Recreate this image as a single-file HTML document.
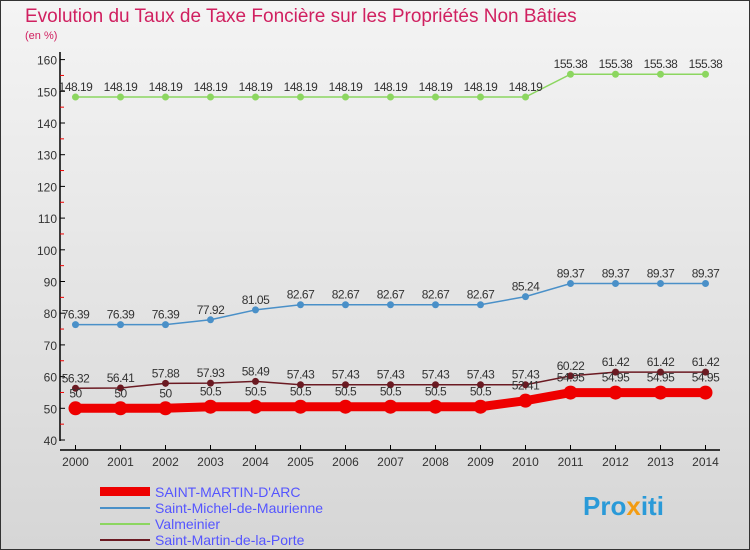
<!DOCTYPE html>
<html><head><meta charset="utf-8"><style>
body{margin:0;width:750px;height:550px;overflow:hidden;font-family:"Liberation Sans",sans-serif}
#bg{position:absolute;left:0;top:0;width:750px;height:550px;background:linear-gradient(#f4f4f4,#d6d6d6);border:1px solid #333;box-sizing:border-box}
</style></head><body>
<div id="bg"></div>
<svg id="c" width="750" height="550" style="position:absolute;left:0;top:0" font-family="Liberation Sans, sans-serif">
<text x="25" y="22" font-size="19" fill="#d02060">Evolution du Taux de Taxe Foncière sur les Propriétés Non Bâties</text>
<text x="25" y="39" font-size="11" fill="#d02060">(en %)</text>
<g id="axes"></g><g id="series"></g>
<g>
<rect x="100" y="487" width="50" height="9" fill="#e00"/>
<text x="155" y="497" font-size="14" fill="#55f">SAINT-MARTIN-D'ARC</text>
<rect x="100" y="507" width="50" height="2" fill="#4a90c8"/>
<text x="155" y="513" font-size="14" fill="#55f">Saint-Michel-de-Maurienne</text>
<rect x="100" y="523" width="50" height="2" fill="#8cd660"/>
<text x="155" y="529" font-size="14" fill="#55f">Valmeinier</text>
<rect x="100" y="539" width="50" height="2" fill="#6b1a22"/>
<text x="155" y="545" font-size="14" fill="#55f">Saint-Martin-de-la-Porte</text>
</g>
<text x="583" y="515" font-size="26" font-weight="bold" fill="#2a9ad8">Pro<tspan fill="#f39c12">x</tspan>iti</text>
</svg>
<script>
const years=[2000,2001,2002,2003,2004,2005,2006,2007,2008,2009,2010,2011,2012,2013,2014];
const yTicks=[40,50,60,70,80,90,100,110,120,130,140,150,160];
const valmeinier=[148.19,148.19,148.19,148.19,148.19,148.19,148.19,148.19,148.19,148.19,148.19,155.38,155.38,155.38,155.38];
const stMichel=[76.39,76.39,76.39,77.92,81.05,82.67,82.67,82.67,82.67,82.67,85.24,89.37,89.37,89.37,89.37];
const stMartinPorte=[56.32,56.41,57.88,57.93,58.49,57.43,57.43,57.43,57.43,57.43,57.43,60.22,61.42,61.42,61.42];
const stMartinArc=[50,50,50,50.5,50.5,50.5,50.5,50.5,50.5,50.5,52.41,54.95,54.95,54.95,54.95];
const NS="http://www.w3.org/2000/svg";
const xs=i=>75.5+i*(630/(years.length-1));
const ys=v=>440-(v-40)*3.17;
function mk(t,a,p){const e=document.createElementNS(NS,t);for(const k in a)e.setAttribute(k,a[k]);p.appendChild(e);return e;}
const ax=document.getElementById('axes'),sg=document.getElementById('series');
const yl=mk('line',{x1:60,y1:52,x2:60,y2:441,stroke:'#000','stroke-width':1.5},ax);


const xl=mk('line',{x1:60,y1:450,x2:720,y2:450,stroke:'#000','stroke-width':1.5},ax);


yTicks.forEach(v=>{
 mk('line',{x1:60,y1:ys(v),x2:65,y2:ys(v),stroke:'#000'},ax);
 mk('line',{x1:60,y1:ys(v+5),x2:64,y2:ys(v+5),stroke:'#e00'},ax).setAttribute('visibility',v<160?'visible':'hidden');
 const t=mk('text',{x:57,y:ys(v)+5,'font-size':12,'text-anchor':'end',fill:'#333'},ax);t.textContent=v;
 
 
});
years.forEach((y,i)=>{
 mk('line',{x1:xs(i),y1:445,x2:xs(i),y2:450,stroke:'#000'},ax);
 const t=mk('text',{x:xs(i),y:466,'font-size':12,'text-anchor':'middle',fill:'#333'},ax);t.textContent=y;
 
 
});
function series(vals,color,w,r,name,dy){
 const g=mk('g',{},sg);
 
 
 const pl=mk('polyline',{points:vals.map((v,i)=>xs(i)+','+ys(v)).join(' '),fill:'none',stroke:color,'stroke-width':w},g);
 
 
 vals.forEach((v,i)=>{
  const c=mk('circle',{cx:xs(i),cy:ys(v),r:r,fill:color},g);
  
  
  const t=mk('text',{x:xs(i),y:ys(v)+dy,'font-size':12,'text-anchor':'middle',fill:'#333','letter-spacing':'-0.5'},g);t.textContent=v;
  
  
 });
}
series(valmeinier,'#8cd660',1.5,3.5,'series-valmeinier',-6);
series(stMichel,'#4a90c8',1.5,3.5,'series-saint-michel',-6);
series(stMartinPorte,'#6b1a22',1.5,3.5,'series-saint-martin-de-la-porte',-6);
series(stMartinArc,'#e00',9,7,'series-saint-martin-d-arc',-11);
</script>
</body></html>
